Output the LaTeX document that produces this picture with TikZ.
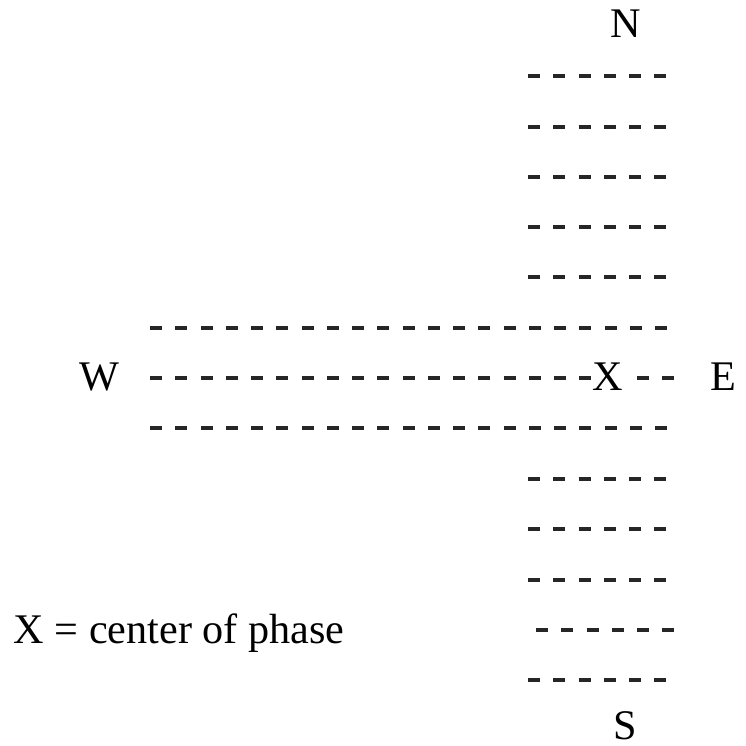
\documentclass[tikz,border=0pt]{standalone}
\usepackage{fontspec}
\setmainfont{Liberation Serif}
\begin{document}
\begin{tikzpicture}[x=0.01cm,y=-0.01cm,
  dashrow/.style={draw=black!85, line width=1.1pt, dash pattern=on 3.414pt off 3.770pt},
  lbl/.style={inner sep=0pt, anchor=base, font=\fontsize{12}{14}\selectfont}]
\useasboundingbox (0,0) rectangle (745,746);
% column rows: y / start x / number of dashes
\foreach \yy/\xx/\n in {76/528/6,127/528/6,177/528/6,227/528/6,277/528/6,
                        328/150/21,428/150/21,
                        479/528/6,529/528/6,580/528/6,630/536/6,680/528/6}
  \draw[dashrow] (\xx,\yy) -- ++({\n*25.25-13.25},0);
% middle (W--E) row
\node[lbl] (x) at (608,390) {X};
\coordinate (wstart) at (150,378);
\coordinate (wend) at (591.25,378);
\draw[dashrow] (wstart) -- (wend);
\coordinate (estart) at (637,378);
\coordinate (eend) at (674,378);
\draw[dashrow] (estart) -- (eend);
% compass labels
\node[lbl] (n) at (626,38) {N};
\node[lbl] (s) at (625,739) {S};
\node[lbl] (w) at (99,390) {W};
\node[lbl] (e) at (723,390) {E};
\node[lbl, anchor=base west] (legend) at (13,643) {X = center of phase};
\end{tikzpicture}
\end{document}
